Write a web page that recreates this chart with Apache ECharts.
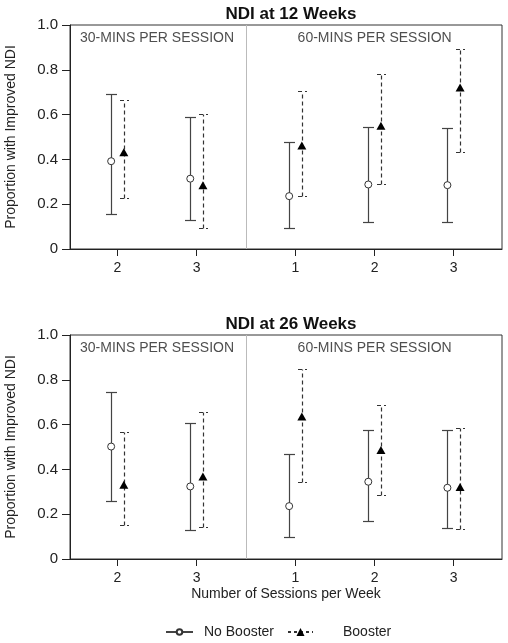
<!DOCTYPE html>
<html>
<head>
<meta charset="utf-8">
<script src="https://cdn.jsdelivr.net/npm/echarts@6/dist/echarts.min.js"></script>
<style>html,body{margin:0;padding:0;background:#fff;}#c{width:508px;height:643px;}</style>
</head>
<body>
<div id="c"></div>
<script>
// ---- data ----
var xPositions = [1, 2, 3.25, 4.25, 5.25];
var xTickLabels = ['2', '3', '1', '2', '3'];
var groupLabels = ['30-MINS PER SESSION', '60-MINS PER SESSION'];
var groupMembers = [[0, 1], [2, 3, 4]];
var panelTitles = ['NDI at 12 Weeks', 'NDI at 26 Weeks'];
var yTicks = [0, 0.2, 0.4, 0.6, 0.8, 1.0];

var wk12NoBooster     = [0.392, 0.314, 0.236, 0.288, 0.285];
var wk12NoBoosterLow  = [0.158, 0.128, 0.095, 0.122, 0.119];
var wk12NoBoosterHigh = [0.691, 0.588, 0.477, 0.544, 0.541];
var wk12Booster       = [0.432, 0.285, 0.462, 0.550, 0.721];
var wk12BoosterLow    = [0.227, 0.094, 0.235, 0.290, 0.432];
var wk12BoosterHigh   = [0.666, 0.603, 0.704, 0.782, 0.893];

var wk26NoBooster     = [0.502, 0.324, 0.236, 0.345, 0.318];
var wk26NoBoosterLow  = [0.257, 0.129, 0.098, 0.169, 0.138];
var wk26NoBoosterHigh = [0.744, 0.606, 0.468, 0.575, 0.578];
var wk26Booster       = [0.331, 0.368, 0.636, 0.487, 0.321];
var wk26BoosterLow    = [0.152, 0.144, 0.343, 0.284, 0.132];
var wk26BoosterHigh   = [0.568, 0.658, 0.847, 0.689, 0.585];

// ---- chart ----
var chart = echarts.init(document.getElementById('c'), null, {renderer: 'canvas'});
var FONT = 'Liberation Sans, Arial, Helvetica, sans-serif';
var OFFSET = 0.08;
var NB_COLOR = '#444';
var B_COLOR = '#333';

var panels = [
  {title: panelTitles[0], nb: wk12NoBooster, nbLo: wk12NoBoosterLow, nbHi: wk12NoBoosterHigh,
   b: wk12Booster, bLo: wk12BoosterLow, bHi: wk12BoosterHigh, top: 25},
  {title: panelTitles[1], nb: wk26NoBooster, nbLo: wk26NoBoosterLow, nbHi: wk26NoBoosterHigh,
   b: wk26Booster, bLo: wk26BoosterLow, bHi: wk26BoosterHigh, top: 335}
];

var divider = (xPositions[groupMembers[0][groupMembers[0].length - 1]] + xPositions[groupMembers[1][0]]) / 2;
var groupCenters = groupMembers.map(function (m) {
  return m.reduce(function (s, i) { return s + xPositions[i]; }, 0) / m.length;
});

function labelFor(v) {
  for (var i = 0; i < xPositions.length; i++) {
    if (Math.abs(xPositions[i] - v) < 1e-6) return xTickLabels[i];
  }
  return '';
}

function errorBars(idx, lows, highs, offset, dashed, color, name) {
  return {
    type: 'custom', name: name, xAxisIndex: idx, yAxisIndex: idx, z: 3,
    data: xPositions.map(function (x, i) { return [x + offset, lows[i], highs[i]]; }),
    encode: {x: 0, y: [1, 2]},
    renderItem: function (params, api) {
      var x = api.value(0);
      var lo = api.coord([x, api.value(1)]);
      var hi = api.coord([x, api.value(2)]);
      var cx = Math.round(lo[0]) + 0.5;
      var ly = Math.round(lo[1]) + 0.5, hy = Math.round(hi[1]) + 0.5;
      var hw = dashed ? 4.5 : 5.5;
      var style = {stroke: color, lineWidth: 1.2, fill: null};
      if (dashed) style.lineDash = [4, 3];
      return {type: 'group', children: [
        {type: 'line', shape: {x1: cx, y1: ly, x2: cx, y2: hy}, style: style},
        {type: 'line', shape: {x1: cx - hw, y1: ly, x2: cx + hw, y2: ly}, style: style},
        {type: 'line', shape: {x1: cx - hw, y1: hy, x2: cx + hw, y2: hy}, style: style}
      ]};
    }
  };
}

var grids = [], xAxes = [], yAxes = [], series = [], titles = [];
panels.forEach(function (p, idx) {
  grids.push({left: 70, right: 6, top: p.top, height: 224, show: true, containLabel: false,
              outerBoundsMode: 'none',
              borderColor: '#333', borderWidth: 1, backgroundColor: 'transparent'});
  xAxes.push({
    type: 'value', gridIndex: idx, min: 0.4, max: 5.86,
    axisLine: {show: true, onZero: false, lineStyle: {color: '#222', width: 1}},
    axisTick: {show: true, length: 7, lineStyle: {color: '#222'}, customValues: xPositions},
    axisLabel: {show: true, customValues: xPositions, formatter: labelFor, margin: 12,
                color: '#222', fontSize: 14, fontFamily: FONT},
    splitLine: {show: false},
    name: idx === 1 ? 'Number of Sessions per Week' : '',
    nameLocation: 'middle', nameGap: 28,
    nameTextStyle: {color: '#222', fontSize: 14, fontFamily: FONT}
  });
  yAxes.push({
    type: 'value', gridIndex: idx, min: 0, max: 1, interval: 0.2,
    axisLine: {show: true, lineStyle: {color: '#222', width: 1}},
    axisTick: {show: true, length: 8, lineStyle: {color: '#222'}},
    axisLabel: {margin: 12, color: '#222', fontSize: 15, fontFamily: FONT,
                formatter: function (v) { return v === 0 ? '0' : v.toFixed(1); }},
    splitLine: {show: false},
    name: 'Proportion with Improved NDI', nameLocation: 'middle', nameRotate: 90, nameGap: 52,
    nameTextStyle: {color: '#222', fontSize: 14, fontFamily: FONT}
  });
  titles.push({text: p.title, left: 286, textAlign: 'center', top: p.top - 24,
               textStyle: {fontSize: 17, fontWeight: 'bold', color: '#111', fontFamily: FONT}});

  // divider + group labels
  series.push({
    type: 'scatter', xAxisIndex: idx, yAxisIndex: idx, symbolSize: 0, silent: true,
    data: groupCenters.map(function (c, g) { return {value: [c, 0.94], label: {formatter: groupLabels[g]}}; }),
    label: {show: true, position: 'inside', color: '#222', fontSize: 14, fontFamily: FONT},
    markLine: {silent: true, symbol: 'none', label: {show: false},
               lineStyle: {color: '#bbb', type: 'solid', width: 1},
               data: [{xAxis: divider}]}
  });
  series.push(errorBars(idx, p.nbLo, p.nbHi, -OFFSET, false, NB_COLOR, 'nbErr' + idx));
  series.push(errorBars(idx, p.bLo, p.bHi, OFFSET, true, B_COLOR, 'bErr' + idx));
  series.push({
    type: 'scatter', xAxisIndex: idx, yAxisIndex: idx, z: 5, symbol: 'circle', symbolSize: 7,
    itemStyle: {color: '#fff', borderColor: '#333', borderWidth: 1, opacity: 1},
    data: xPositions.map(function (x, i) { return [x - OFFSET, p.nb[i]]; })
  });
  series.push({
    type: 'scatter', xAxisIndex: idx, yAxisIndex: idx, z: 5, symbol: 'triangle', symbolSize: [9, 8],
    itemStyle: {color: '#000', opacity: 1},
    data: xPositions.map(function (x, i) { return [x + OFFSET, p.b[i]]; })
  });
});

// legend-only series
series.push({type: 'line', name: 'No Booster', xAxisIndex: 0, yAxisIndex: 0, data: [],
             symbol: 'emptyCircle', symbolSize: 5, itemStyle: {color: '#333', borderColor: '#333'},
             lineStyle: {color: '#444', width: 1.1, type: 'solid'}});
series.push({type: 'line', name: 'Booster', xAxisIndex: 0, yAxisIndex: 0, data: [],
             symbol: 'triangle', symbolSize: 6, itemStyle: {color: '#000'},
             lineStyle: {color: '#333', width: 1.1, type: [3, 3]}});

var option = {
  animation: false,
  backgroundColor: '#fff',
  title: titles,
  grid: grids,
  xAxis: xAxes,
  yAxis: yAxes,
  legend: [
    {data: ['No Booster'], left: 165, top: 625, padding: 0, itemWidth: 27, itemHeight: 7, selectedMode: false,
     textStyle: {fontSize: 14, color: '#222', fontFamily: FONT, padding: [0, 0, 0, 6]}},
    {data: ['Booster'], left: 287, top: 625, padding: 0, itemWidth: 25, itemHeight: 10, selectedMode: false,
     textStyle: {fontSize: 14, color: '#222', fontFamily: FONT, padding: [0, 0, 0, 25]}}
  ],
  series: series
};
chart.setOption(option);
</script>
</body>
</html>
